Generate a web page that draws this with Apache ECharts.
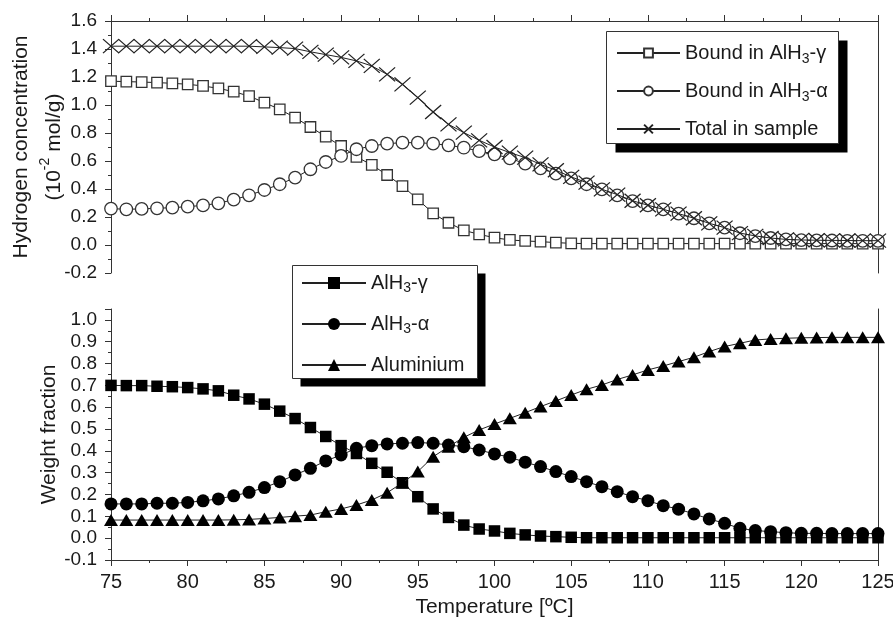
<!DOCTYPE html>
<html><head><meta charset="utf-8">
<script src="https://cdn.jsdelivr.net/npm/echarts@6/dist/echarts.min.js"></script>
<style>html,body{margin:0;padding:0;background:#fff}#c{width:893px;height:620px}</style>
</head><body><div id="c"></div>
<script>
// ---- data ----
const temperature = [75,76,77,78,79,80,81,82,83,84,85,86,87,88,89,90,91,92,93,94,95,96,97,98,99,100,101,102,103,104,105,106,107,108,109,110,111,112,113,114,115,116,117,118,119,120,121,122,123,124,125];
// Hydrogen concentration (10^-2 mol/g)
const hBoundGamma = [1.17,1.167,1.164,1.16,1.155,1.148,1.136,1.119,1.095,1.064,1.017,0.969,0.91,0.843,0.774,0.707,0.63,0.572,0.50,0.421,0.326,0.226,0.159,0.105,0.076,0.052,0.036,0.029,0.024,0.017,0.012,0.01,0.01,0.01,0.01,0.01,0.01,0.01,0.01,0.01,0.01,0.01,0.01,0.01,0.01,0.01,0.01,0.01,0.01,0.01,0.01];
const hBoundAlpha = [0.26,0.255,0.258,0.262,0.267,0.274,0.283,0.298,0.324,0.355,0.393,0.434,0.481,0.541,0.593,0.636,0.684,0.707,0.724,0.731,0.731,0.724,0.712,0.695,0.671,0.648,0.619,0.581,0.548,0.51,0.476,0.434,0.398,0.355,0.314,0.283,0.255,0.224,0.191,0.155,0.124,0.084,0.064,0.05,0.04,0.035,0.033,0.032,0.03,0.03,0.03];
const hTotal = [1.42,1.42,1.42,1.42,1.42,1.42,1.42,1.42,1.42,1.42,1.415,1.41,1.403,1.38,1.36,1.34,1.315,1.279,1.219,1.148,1.053,0.95,0.862,0.803,0.748,0.70,0.66,0.624,0.576,0.534,0.486,0.446,0.398,0.36,0.316,0.284,0.255,0.224,0.191,0.155,0.124,0.085,0.065,0.05,0.04,0.036,0.034,0.033,0.032,0.031,0.031];
// Weight fraction
const wGamma = [0.70,0.699,0.699,0.696,0.694,0.69,0.684,0.675,0.655,0.638,0.614,0.582,0.548,0.507,0.466,0.424,0.388,0.343,0.302,0.254,0.19,0.134,0.095,0.06,0.042,0.033,0.022,0.015,0.01,0.007,0.004,0.002,0.002,0.002,0.002,0.002,0.002,0.002,0.002,0.002,0.002,0.002,0.002,0.002,0.002,0.002,0.002,0.002,0.002,0.002,0.002];
const wAlpha = [0.157,0.157,0.157,0.16,0.16,0.164,0.171,0.18,0.194,0.21,0.232,0.259,0.29,0.32,0.354,0.381,0.412,0.424,0.432,0.435,0.438,0.435,0.427,0.419,0.404,0.386,0.371,0.348,0.328,0.305,0.282,0.259,0.236,0.213,0.19,0.172,0.149,0.133,0.111,0.088,0.068,0.045,0.035,0.03,0.025,0.022,0.022,0.021,0.021,0.021,0.021];
const wAluminium = [0.083,0.083,0.083,0.083,0.083,0.083,0.083,0.083,0.084,0.086,0.09,0.095,0.101,0.106,0.121,0.134,0.152,0.175,0.208,0.254,0.305,0.373,0.419,0.462,0.496,0.523,0.549,0.575,0.603,0.629,0.656,0.682,0.702,0.727,0.748,0.771,0.789,0.809,0.829,0.855,0.878,0.893,0.908,0.913,0.916,0.918,0.919,0.92,0.92,0.92,0.92];
// axes
const xRange = [75, 125], xStep = 5;
const yTopRange = [-0.2, 1.6], yTopStep = 0.2;
const yBotRange = [-0.1, 1.05], yBotStep = 0.1;
const legendTopNames = ['Bound in AlH3-γ', 'Bound in AlH3-α', 'Total in sample'];
const legendBotNames = ['AlH3-γ', 'AlH3-α', 'Aluminium'];

const FONT = 'Liberation Sans, Arial, sans-serif';
const INK = '#1a1a1a';
const pairs = v => temperature.map((t, i) => [t, v[i]]);

const richLegend = (fs, lh) => ({
  t: { fontSize: fs, fontFamily: FONT, color: INK, lineHeight: lh },
  s: { fontSize: 14, fontFamily: FONT, color: INK, lineHeight: 12, verticalAlign: 'bottom' }
});
const legendFmt = name => {
  const m = name.match(/^(.*AlH)3(-.)$/);
  return m ? '{t|' + m[1] + '}{s|3}{t|' + m[2] + '}' : '{t|' + name + '}';
};

const axisLine = { show: true, onZero: false, lineStyle: { color: '#333', width: 1 } };
const tick = { show: true, length: 6, lineStyle: { color: '#333', width: 1 } };
const minor = { show: true, splitNumber: 2, length: 3, lineStyle: { color: '#333', width: 1 } };
const fmt1 = v => v.toFixed(1);

const X_PATH = 'path://M0,0L14,12M14,0L0,12';

const hollow = { color: '#fff', borderColor: '#333', borderWidth: 1.3 };
const lineS = { color: '#222', width: 1 };

// legend frames (box + drop shadow), decoration only
const frame = (x, y, w, h, d) => [
  { type: 'rect', z: 9, shape: { x: x + d, y: y + d, width: w, height: h }, style: { fill: '#000' } },
  { type: 'rect', z: 9, shape: { x: x, y: y, width: w, height: h }, style: { fill: '#fff', stroke: '#333', lineWidth: 1 } }
];

const option = {
  animation: false,
  backgroundColor: '#fff',
  graphic: [...frame(606.5, 31.5, 232, 112, 9), ...frame(292.5, 265.5, 185, 113, 8)],
  grid: [
    { left: 111, right: 15, top: 21, height: 252, outerBoundsMode: 'none' },
    { left: 111, right: 15, top: 309, bottom: 60, outerBoundsMode: 'none' }
  ],
  xAxis: [
    { gridIndex: 0, type: 'value', position: 'top', min: xRange[0], max: xRange[1], interval: xStep,
      axisLine, axisTick: tick, minorTick: minor, axisLabel: { show: false }, splitLine: { show: false } },
    { gridIndex: 1, type: 'value', position: 'bottom', min: xRange[0], max: xRange[1], interval: xStep,
      axisLine, axisTick: tick, minorTick: minor, splitLine: { show: false },
      axisLabel: { fontSize: 20, fontFamily: FONT, color: INK, margin: 12 },
      name: 'Temperature [ºC]', nameLocation: 'middle', nameGap: 37, nameMoveOverlap: false,
      nameTextStyle: { fontSize: 21, fontFamily: FONT, color: INK } }
  ],
  yAxis: [
    { gridIndex: 0, type: 'value', position: 'left', min: yTopRange[0], max: yTopRange[1], interval: yTopStep,
      axisLine, axisTick: tick, minorTick: minor, splitLine: { show: false },
      axisLabel: { fontSize: 19, fontFamily: FONT, color: INK, margin: 14, formatter: fmt1 },
      name: '{n|Hydrogen concentration}\n{n|(10}{p|-2}{n| mol/g)}', nameLocation: 'middle', nameRotate: 90, nameGap: 40,
      nameMoveOverlap: false,
      nameTextStyle: { rich: {
        n: { fontSize: 21, fontFamily: FONT, color: INK, lineHeight: 33 },
        p: { fontSize: 14, fontFamily: FONT, color: INK, lineHeight: 22, verticalAlign: 'top' } } } },
    { gridIndex: 0, type: 'value', position: 'right', min: yTopRange[0], max: yTopRange[1], interval: yTopStep,
      axisLine, axisTick: { show: false }, axisLabel: { show: false }, splitLine: { show: false } },
    { gridIndex: 1, type: 'value', position: 'left', min: yBotRange[0], max: yBotRange[1], interval: yBotStep,
      axisLine, axisTick: tick, minorTick: minor, splitLine: { show: false },
      axisLabel: { fontSize: 19, fontFamily: FONT, color: INK, margin: 14, formatter: fmt1, showMaxLabel: false },
      name: 'Weight fraction', nameLocation: 'middle', nameRotate: 90, nameGap: 50, nameMoveOverlap: false,
      nameTextStyle: { fontSize: 21, fontFamily: FONT, color: INK, lineHeight: 24 } },
    { gridIndex: 1, type: 'value', position: 'right', min: yBotRange[0], max: yBotRange[1], interval: yBotStep,
      axisLine, axisTick: { show: false }, axisLabel: { show: false }, splitLine: { show: false } }
  ],
  legend: [
    { data: legendTopNames, orient: 'vertical', left: 606, top: 31, z: 10,
      itemWidth: 63, itemHeight: 11, itemGap: 15, padding: [12, 12, 2, 10],
      formatter: legendFmt, textStyle: { rich: richLegend(20, 26) }, selectedMode: false },
    { data: legendBotNames, orient: 'vertical', left: 292, top: 265, z: 10,
      itemWidth: 64, itemHeight: 15, itemGap: 19, padding: [8, 14, 2, 9],
      formatter: legendFmt, textStyle: { rich: richLegend(20, 24) }, selectedMode: false }
  ],
  series: [
    { name: legendTopNames[0], type: 'line', xAxisIndex: 0, yAxisIndex: 0, data: pairs(hBoundGamma),
      symbol: 'rect', symbolSize: 10.5, itemStyle: hollow, lineStyle: lineS, z: 2 },
    { name: legendTopNames[1], type: 'line', xAxisIndex: 0, yAxisIndex: 0, data: pairs(hBoundAlpha),
      symbol: 'circle', symbolSize: 12.5, itemStyle: hollow, lineStyle: lineS, z: 3 },
    { name: legendTopNames[2], type: 'line', xAxisIndex: 0, yAxisIndex: 0, data: pairs(hTotal),
      symbol: X_PATH, symbolSize: [16, 14], itemStyle: { color: '#222', borderColor: '#222', borderWidth: 1.2 }, lineStyle: lineS, z: 4 },
    { name: legendBotNames[0], type: 'line', xAxisIndex: 1, yAxisIndex: 2, data: pairs(wGamma),
      symbol: 'rect', symbolSize: 11.5, itemStyle: { color: '#000' }, lineStyle: lineS, z: 2 },
    { name: legendBotNames[1], type: 'line', xAxisIndex: 1, yAxisIndex: 2, data: pairs(wAlpha),
      symbol: 'circle', symbolSize: 13, itemStyle: { color: '#000' }, lineStyle: lineS, z: 3 },
    { name: legendBotNames[2], type: 'line', xAxisIndex: 1, yAxisIndex: 2, data: pairs(wAluminium),
      symbol: 'triangle', symbolSize: [14, 12], itemStyle: { color: '#000' }, lineStyle: lineS, z: 4 }
  ]
};
const chart = echarts.init(document.getElementById('c'), null, { renderer: 'canvas' });
chart.setOption(option);
</script>
</body></html>
